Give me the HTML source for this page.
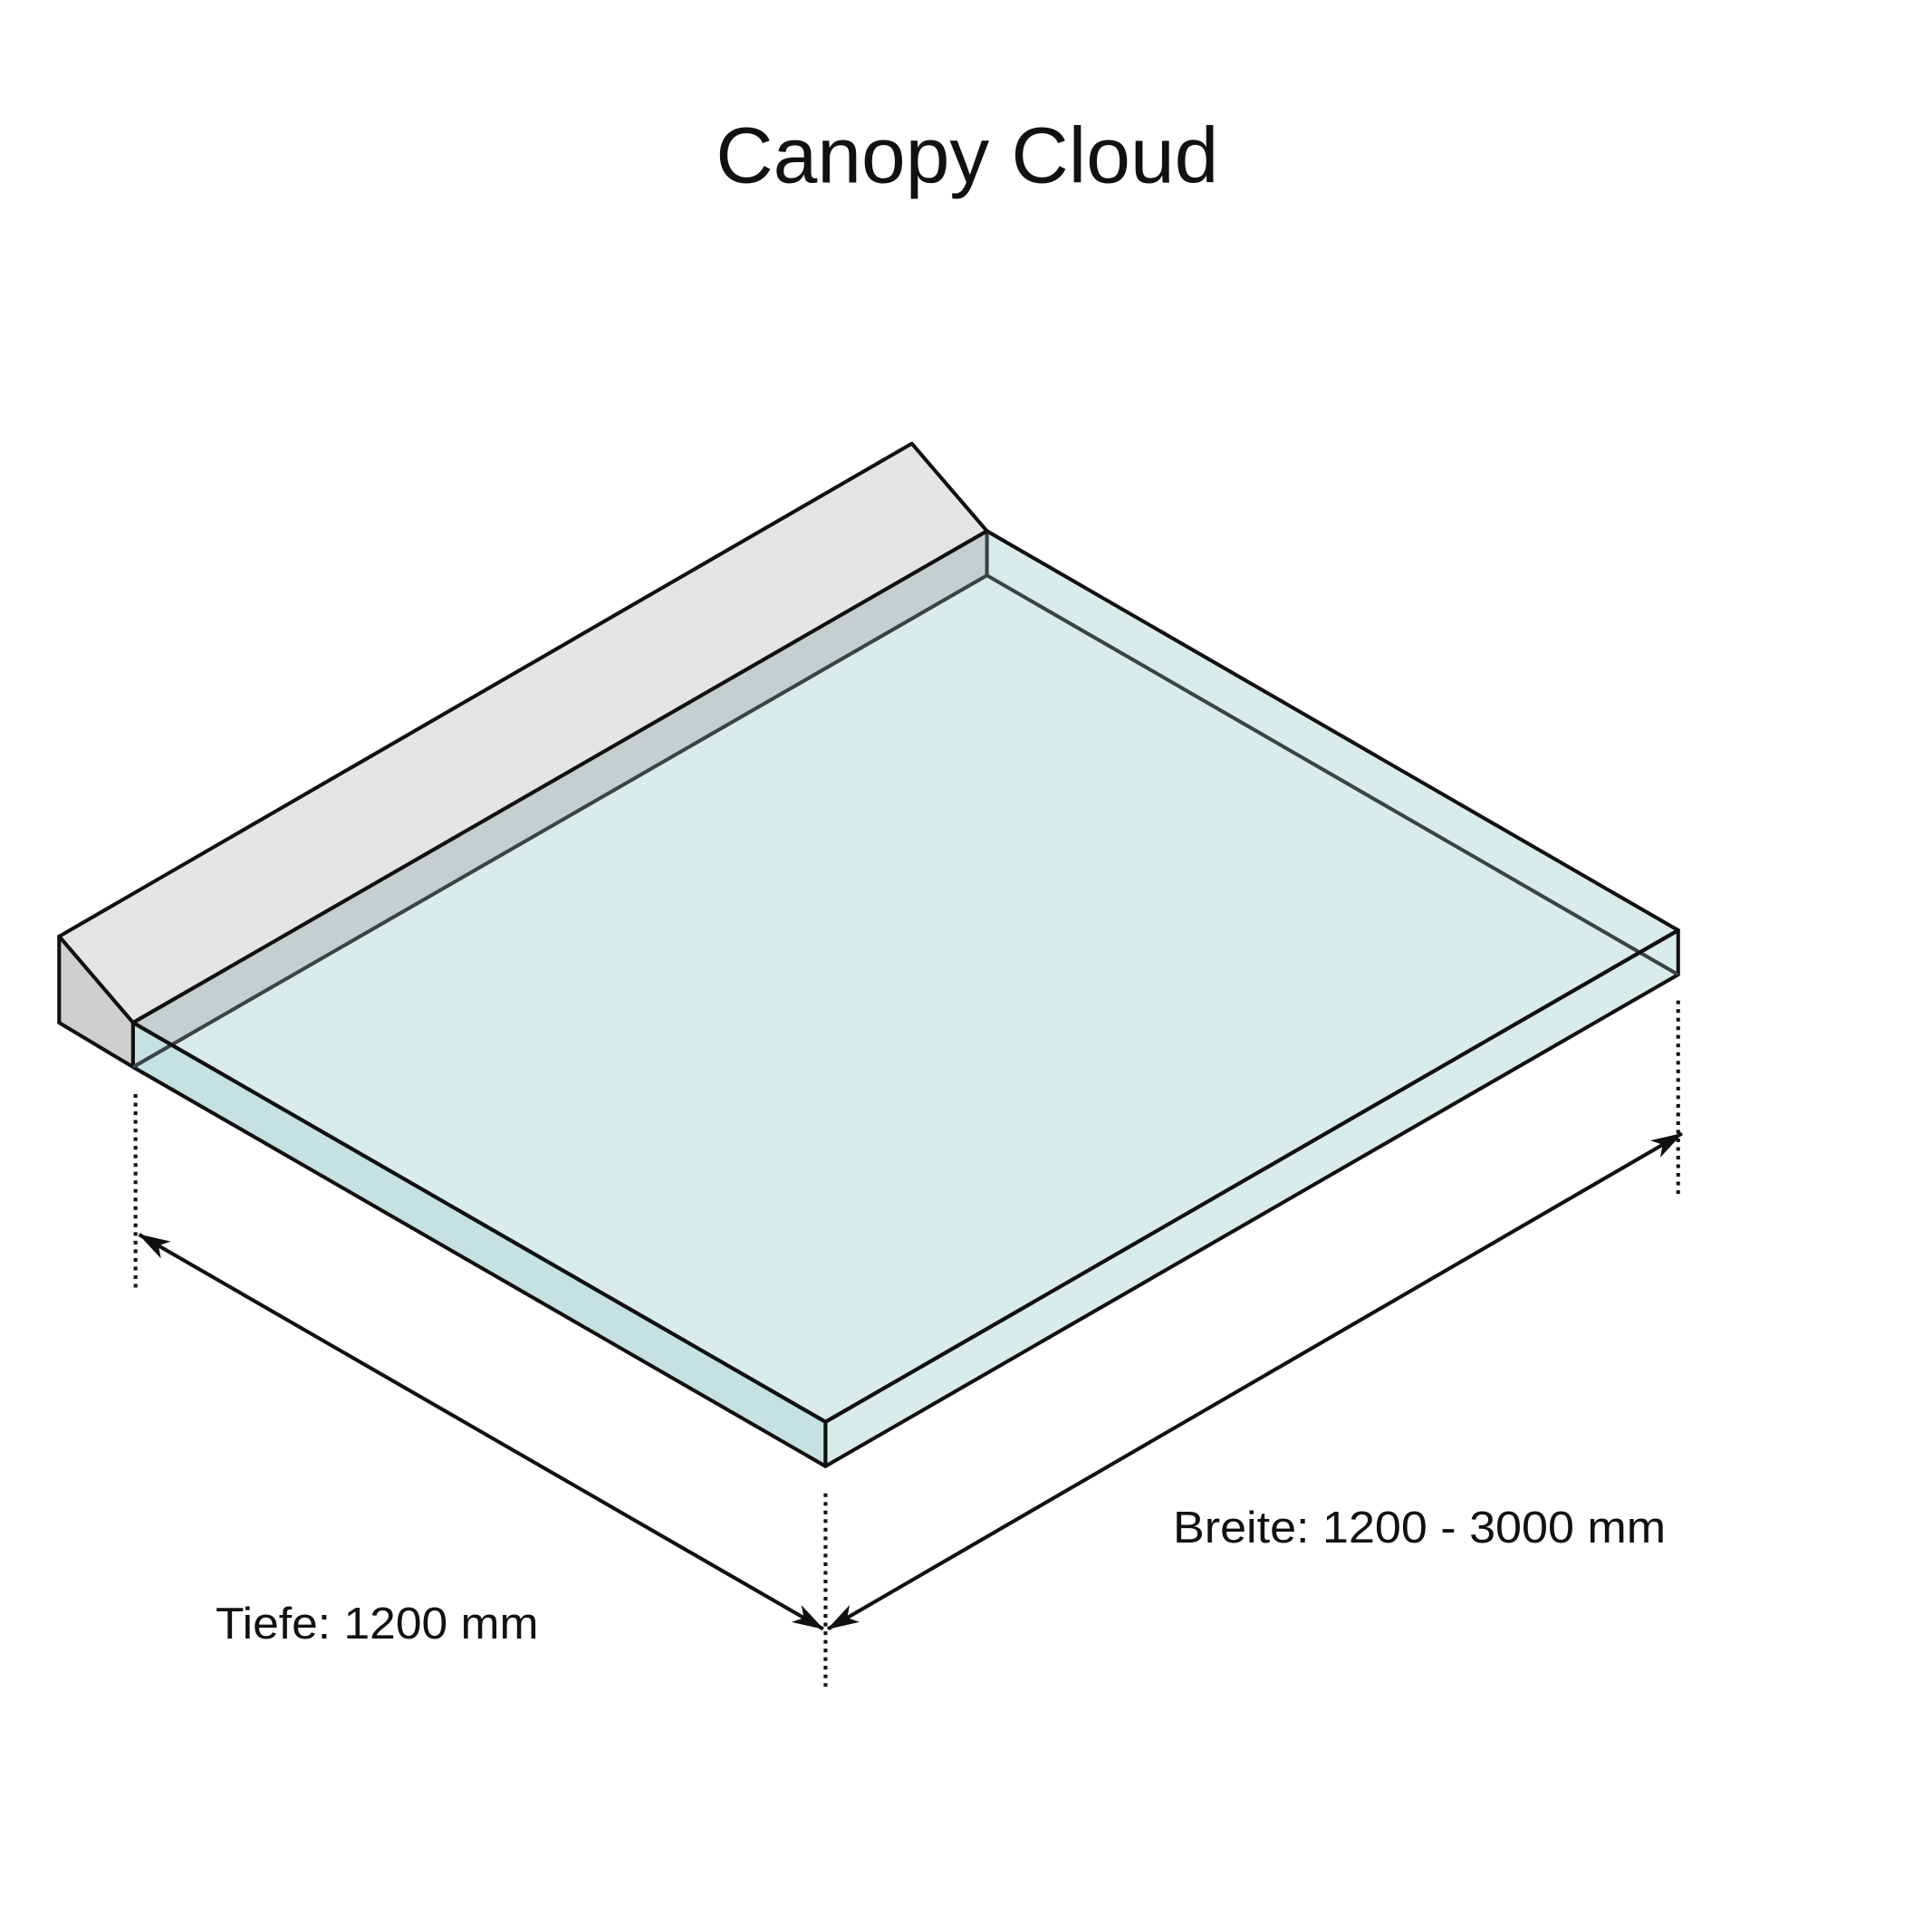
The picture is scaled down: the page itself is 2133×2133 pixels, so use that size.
<!DOCTYPE html>
<html><head><meta charset="utf-8"><style>html,body{margin:0;padding:0;background:#fff}svg{display:block}</style></head>
<body>
<svg width="2133" height="2133" viewBox="0 0 1568 1568" xmlns="http://www.w3.org/2000/svg">
<defs>
<marker id="ah" viewBox="0 0 26 16" refX="25" refY="8" markerWidth="26" markerHeight="16" orient="auto-start-reverse" markerUnits="userSpaceOnUse">
<path d="M0,0 L26,8 L0,16 L7,8 Z" fill="#111"/>
</marker>
</defs>
<rect width="1568" height="1568" fill="#fff"/>
<text x="785" y="148" text-anchor="middle" font-family="Liberation Sans, sans-serif" font-size="64" fill="#111" textLength="408" lengthAdjust="spacingAndGlyphs">Canopy Cloud</text>
<!-- wall -->
<polygon points="48,760 740,360 801,431 108,830" fill="#e5e5e5" stroke="#111" stroke-width="3" stroke-linejoin="round"/>
<polygon points="48,760 108,830 108,866 48,830" fill="#cfcfcf" stroke="#111" stroke-width="3" stroke-linejoin="round"/>
<!-- glass -->
<polygon points="108,830 801,431 801,467 108,866" fill="#c5cfd0"/>
<polygon points="801,467 1362,791 670,1154 108,866" fill="#daebeb"/>
<polygon points="801,431 1362,755 1362,791 801,467" fill="#daebeb"/>
<polygon points="108,830 670,1154 670,1190 108,866" fill="#c5e1e1" stroke="#111" stroke-width="3" stroke-linejoin="round"/>
<polygon points="670,1154 1362,755 1362,791 670,1190" fill="#daebeb" stroke="#111" stroke-width="3" stroke-linejoin="round"/>
<polyline points="108,866 801,467 1362,791" fill="none" stroke="#3a4444" stroke-width="3"/>
<line x1="801" y1="431" x2="801" y2="467" stroke="#3a4444" stroke-width="3"/>
<polygon points="108,830 801,431 1362,755 670,1154" fill="none" stroke="#111" stroke-width="3" stroke-linejoin="round"/>
<!-- dims -->
<g stroke="#111" stroke-width="3" stroke-dasharray="3,4">
<line x1="110" y1="888" x2="110" y2="1048"/>
<line x1="1362" y1="812" x2="1362" y2="972"/>
<line x1="670" y1="1212" x2="670" y2="1372"/>
</g>
<line x1="113" y1="1002" x2="668" y2="1322" stroke="#111" stroke-width="3" marker-start="url(#ah)" marker-end="url(#ah)"/>
<line x1="1365" y1="920" x2="672" y2="1322" stroke="#111" stroke-width="3" marker-start="url(#ah)" marker-end="url(#ah)"/>
<text x="175" y="1330" font-family="Liberation Sans, sans-serif" font-size="36" fill="#111" textLength="262" lengthAdjust="spacingAndGlyphs">Tiefe: 1200 mm</text>
<text x="952" y="1252" font-family="Liberation Sans, sans-serif" font-size="36" fill="#111" textLength="400" lengthAdjust="spacingAndGlyphs">Breite: 1200 - 3000 mm</text>
</svg>
</body></html>
